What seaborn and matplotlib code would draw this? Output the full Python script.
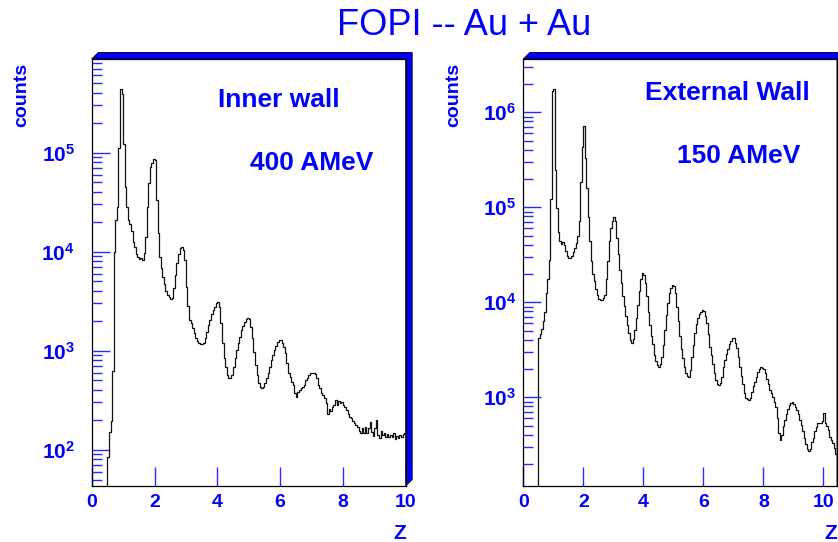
import numpy as np
import pandas as pd
import matplotlib
matplotlib.use("Agg")
import matplotlib.pyplot as plt
from matplotlib.patches import Polygon
from matplotlib.ticker import FixedLocator, LogLocator, NullFormatter, NullLocator
import seaborn as sns

# ==============================
# DATA
# ==============================

TITLE = "FOPI -- Au + Au"

BIN_WIDTH = 0.05
FIRST_FILLED = 0.5   # first non-empty bin edge (Z)

# counts per 0.05 bin, starting at Z = 0.5 (10 bins per row)
inner_counts = [
    85, 150, 195, 630, 10000, 21000, 28000, 110000, 440000, 390000,
    123000, 45000, 28000, 21000, 19000, 16000, 12500, 11000, 9500, 8900,
    8500, 8700, 8200, 9600, 14000, 28500, 49000, 71000, 78000, 87000,
    84000, 33000, 15300, 8900, 6800, 5500, 4700, 4000, 3650, 3450,
    3300, 3400, 4250, 5800, 7600, 9400, 10800, 11200, 10400, 8200,
    4400, 2800, 2040, 1900, 1700, 1500, 1350, 1260, 1200, 1170,
    1170, 1200, 1330, 1550, 1800, 2040, 2350, 2570, 2760, 3050,
    3100, 2760, 1890, 1190, 840, 690, 570, 530, 530, 570,
    690, 840, 1020, 1200, 1380, 1600, 1770, 1960, 2070, 2150,
    2070, 1750, 1330, 980, 720, 570, 475, 430, 415, 425,
    470, 525, 590, 690, 805, 900, 1020, 1120, 1210, 1280,
    1280, 1200, 1100, 940, 745, 590, 540, 485, 450, 370,
    340, 385, 400, 415, 430, 450, 500, 525, 570, 590,
    590, 595, 580, 525, 450, 415, 370, 355, 330, 295,
    230, 255, 248, 270, 283, 318, 283, 313, 295, 305,
    283, 270, 250, 230, 215, 207, 196, 185, 177, 171,
    156, 149, 164, 146, 171, 149, 164, 192, 152, 137,
    164, 199, 141, 130, 156, 141, 149, 135, 144, 133,
    141, 135, 146, 127, 137, 130, 141, 135, 144, 146,
]

external_counts = [
    4200, 4600, 5200, 6300, 7900, 12600, 17400, 28000, 123000, 1660000,
    1780000, 245000, 98000, 55000, 44000, 41000, 43000, 40000, 35000, 31000,
    29500, 29500, 31000, 34000, 37000, 42000, 50000, 71000, 186000, 427000,
    724000, 331000, 158000, 79000, 44000, 27000, 20000, 16600, 13800, 12000,
    10700, 10500, 10500, 11000, 12000, 17400, 27000, 44000, 60000, 71000,
    79000, 71000, 48000, 32000, 22000, 16000, 11700, 9100, 7200, 5800,
    4700, 4000, 3700, 4100, 5100, 6900, 9400, 13200, 17400, 20200,
    19500, 15800, 11500, 7900, 5750, 4450, 3600, 2800, 2430, 2190,
    2100, 2240, 2630, 3550, 5100, 7360, 9900, 12600, 14100, 15200,
    14900, 12400, 9000, 6300, 4400, 3250, 2570, 2070, 1790, 1680,
    1640, 1940, 2630, 3520, 4720, 5860, 6840, 7530, 7980, 8240,
    8040, 7180, 6010, 4570, 3410, 2750, 2210, 1780, 1500, 1370,
    1350, 1410, 1650, 2070, 2470, 2860, 3200, 3590, 3890, 4150,
    4220, 3760, 3280, 2620, 2100, 1690, 1360, 1100, 970, 955,
    940, 980, 1120, 1320, 1460, 1640, 1820, 1990, 2070, 2050,
    1970, 1790, 1550, 1380, 1190, 1110, 1000, 890, 785, 600,
    420, 350, 400, 500, 580, 670, 750, 820, 865, 885,
    850, 785, 725, 670, 580, 515, 445, 370, 325, 285,
    270, 285, 335, 375, 435, 490, 530, 530, 540, 555,
    680, 540, 500, 455, 385, 355, 330, 290, 250, 230,
]

x_ticks = [0, 2, 4, 6, 8, 10]

inner_labels = ["Inner wall", "400 AMeV"]
external_labels = ["External Wall", "150 AMeV"]

# ==============================
# STYLE
# ==============================

BLUE = "#0000ff"
TICK_BLUE = "#2a2aff"
W, H = 838, 542

sns.set_style("white")
plt.rcParams["font.family"] = ["Liberation Sans", "DejaVu Sans"]
plt.rcParams["font.weight"] = "bold"
plt.rcParams["axes.edgecolor"] = "black"
plt.rcParams["axes.linewidth"] = 0.9


def px_rect(left, top, right, bottom):
    return [left / W, (H - bottom) / H, (right - left) / W, (bottom - top) / H]


def add_shadow(ax, depth=6.5):
    pos = ax.get_position()
    dx = depth / (pos.width * W)
    dy = depth / (pos.height * H)
    pts = [(0, 1), (dx, 1 + dy), (1 + dx, 1 + dy), (1 + dx, dy), (1, 0), (1, 1)]
    ax.add_patch(Polygon(pts, closed=True, transform=ax.transAxes, clip_on=False,
                         facecolor=BLUE, edgecolor="black", linewidth=0.6, zorder=0.5))


def draw_panel(ax, counts, xmax, ylim, labels, label_pos, ypad):
    n = len(counts)
    n_empty = int(round(FIRST_FILLED / BIN_WIDTH))
    # plain list: seaborn compares bins with "auto"
    edges = [round(i * BIN_WIDTH, 4) for i in range(n_empty + n + 1)]
    df = pd.DataFrame({
        "Z": FIRST_FILLED + BIN_WIDTH * (np.arange(n) + 0.5),
        "counts": counts,
    })

    sns.histplot(data=df, x="Z", weights="counts", bins=edges, element="step",
                 fill=False, color="#111111", linewidth=0.9, ax=ax)

    ax.set_yscale("log")
    ax.set_xlim(0, xmax)
    ax.set_ylim(*ylim)

    ax.xaxis.set_major_locator(FixedLocator(x_ticks))
    ax.xaxis.set_minor_locator(NullLocator())
    ax.yaxis.set_major_locator(LogLocator(base=10))
    ax.yaxis.set_minor_locator(LogLocator(base=10, subs=np.arange(2, 10)))
    ax.yaxis.set_minor_formatter(NullFormatter())

    ax.tick_params(axis="x", which="major", direction="in", length=14, width=1,
                   color=TICK_BLUE, labelcolor=BLUE, labelsize=14, pad=6,
                   bottom=True, top=False)
    ax.tick_params(axis="y", which="major", direction="in", length=13, width=1,
                   color=TICK_BLUE, labelcolor=BLUE, labelsize=15, pad=ypad,
                   left=True, right=False)
    ax.tick_params(axis="y", which="minor", direction="in", length=7, width=1,
                   color=TICK_BLUE, left=True, right=False)

    ax.set_xlabel("Z", loc="right", color=BLUE, fontsize=15, fontweight="bold",
                  labelpad=9)
    ax.set_ylabel("")
    ax.text(-0.222, 0.99, "counts", transform=ax.transAxes, rotation=90,
            ha="center", va="top", color=BLUE, fontsize=14)

    for text, (tx, ty) in zip(labels, label_pos):
        ax.text(tx, ty, text, transform=ax.transAxes, ha="left", va="baseline",
                color=BLUE, fontsize=19)

    add_shadow(ax)


# ==============================
# PLOT
# ==============================

fig = plt.figure(figsize=(W / 100, H / 100), dpi=100)
fig.patch.set_facecolor("white")

ax_inner = fig.add_axes(px_rect(91.7, 59, 405.7, 486))
ax_external = fig.add_axes(px_rect(523.3, 59, 837, 486))

draw_panel(ax_inner, inner_counts, 10, (43, 8.8e5), inner_labels,
           [(0.402, 0.888), (0.504, 0.740)], ypad=12)
draw_panel(ax_external, external_counts, 10.45, (116, 3.64e6), external_labels,
           [(0.388, 0.904), (0.489, 0.756)], ypad=5)

fig.text(464 / W, (H - 35) / H, TITLE, ha="center", va="baseline",
         color=BLUE, fontsize=26, fontweight="normal")

fig.savefig("out.png", dpi=100)
